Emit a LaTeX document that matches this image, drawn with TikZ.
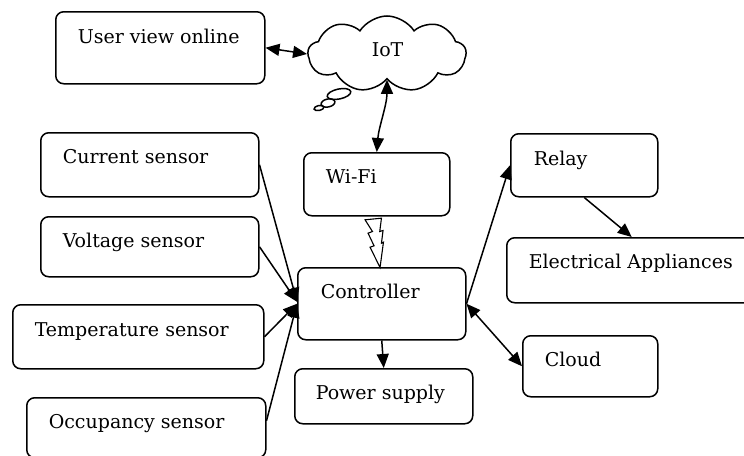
\documentclass[tikz,border=0pt]{standalone}
\usepackage{fontspec}
\setmainfont{DejaVu Serif}
\usetikzlibrary{shapes.symbols,arrows.meta,calc}
\begin{document}
\begin{tikzpicture}[x=1pt,y=-1pt, line width=1.5pt,
  box/.style={draw, rounded corners=8pt, anchor=north west, inner sep=0pt},
  lbl/.style={anchor=base west, inner sep=0pt, font=\fontsize{19}{22}\selectfont},
  arr/.style={-{Triangle[length=14pt,width=12pt]}},
  darr/.style={{Triangle[length=14pt,width=12pt]}-{Triangle[length=14pt,width=12pt]}}]
\clip (0,0) rectangle (744,455);
\fill[white] (0,0) rectangle (744,455);
% boxes
\node[box, minimum width=209pt, minimum height=72pt] (user) at (55,11) {};
\node[box, minimum width=218pt, minimum height=64pt] (cur) at (40,132) {};
\node[box, minimum width=146pt, minimum height=63pt] (wifi) at (303,152) {};
\node[box, minimum width=218pt, minimum height=60pt] (volt) at (40,216) {};
\node[box, minimum width=251pt, minimum height=64pt] (temp) at (12,304) {};
\node[box, minimum width=239pt, minimum height=60pt] (occ) at (26,397) {};
\node[box, minimum width=168pt, minimum height=72pt] (ctrl) at (297,267) {};
\node[box, minimum width=178pt, minimum height=55pt] (power) at (294,368) {};
\node[box, minimum width=147pt, minimum height=63pt] (relay) at (510,133) {};
\node[box, minimum width=250pt, minimum height=65pt] (ea) at (506,237) {};
\node[box, minimum width=135pt, minimum height=61pt] (cloudb) at (522,335) {};
% cloud
\node[cloud, draw, cloud puffs=9, cloud puff arc=115, aspect=2.1,
      minimum width=158pt, minimum height=76pt, inner sep=0pt] (iot) at (387,54) {};
\draw (339,94) ellipse [x radius=12pt, y radius=5pt, rotate=12];
\draw (328,103) ellipse [x radius=7pt, y radius=4pt, rotate=12];
\draw (319,108) ellipse [x radius=5pt, y radius=2.5pt, rotate=12];
% labels
\node[lbl] (tuser) at (77,43) {User view online};
\node[lbl] (tiot) at (371,56) {IoT};
\node[lbl] (tcur) at (62,163) {Current sensor};
\node[lbl] (twifi) at (325,183) {Wi-Fi};
\node[lbl] (tvolt) at (62,247) {Voltage sensor};
\node[lbl] (ttemp) at (34,336) {Temperature sensor};
\node[lbl] (tocc) at (48,428) {Occupancy sensor};
\node[lbl] (tctrl) at (320,298) {Controller};
\node[lbl] (tpow) at (315,399) {Power supply};
\node[lbl] (trel) at (533,165) {Relay};
\node[lbl] (tea) at (528,268) {Electrical Appliances};
\node[lbl] (tcld) at (544,366) {Cloud};
% connectors
\draw[darr] (user.east) -- (iot.west);
\draw[darr] (iot.south) .. controls +(0,25) and +(2,-25) .. (wifi.north);
\draw[arr] (cur.east) -- ([yshift=2pt]ctrl.west);
\draw[arr] (volt.east) -- ([yshift=2pt]ctrl.west);
\draw[arr] (temp.east) -- (ctrl.west);
\draw[arr] ([yshift=7pt]occ.east) -- (ctrl.west);
\draw[arr] (ctrl.east) -- (relay.west);
\draw[darr] (ctrl.east) -- (cloudb.west);
\draw[arr] (relay.south) -- (ea.north);
\draw[arr] (ctrl.south) -- (power.north);
% lightning
\draw[line width=1.1pt, fill=white, line join=miter]
  ($(wifi.south)+(-11.7,3.3)$) -- ($(wifi.south)+(4.7,1.7)$) -- ($(wifi.south)+(3,15)$)
  -- ($(wifi.south)+(6.3,14)$) -- ($(wifi.south)+(4.7,26.7)$) -- ($(wifi.south)+(6.7,25.7)$)
  -- ($(wifi.south)+(3.3,51)$) -- ($(wifi.south)+(-6.7,30.7)$) -- ($(wifi.south)+(-2.7,29.3)$)
  -- ($(wifi.south)+(-8.7,16.7)$) -- ($(wifi.south)+(-4.3,15)$) -- cycle;
\end{tikzpicture}
\end{document}
